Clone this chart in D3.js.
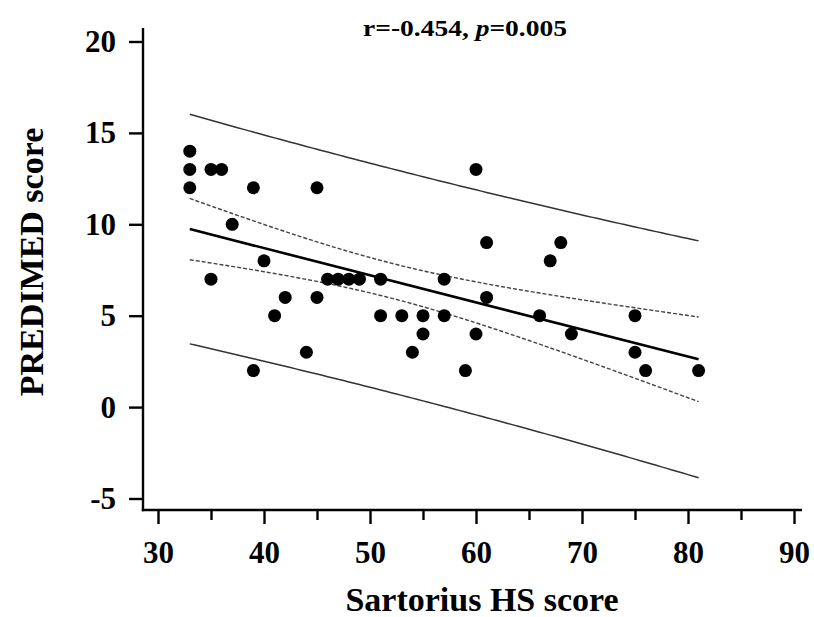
<!DOCTYPE html>
<html>
<head>
  <meta charset="utf-8">
  <title>PREDIMED vs Sartorius</title>
  <script src="https://cdnjs.cloudflare.com/ajax/libs/d3/7.8.5/d3.min.js"></script>
</head>
<style>
  body { margin: 0; background: #fff; }
  svg { display: block; }
  text { font-family: "Liberation Serif", "Times New Roman", serif; font-weight: bold; fill: #000; }
</style>
<body>
<svg id="svg" width="814" height="617"></svg>
<script type="text/javascript">
  // x = Sartorius HS score, y = PREDIMED score
  const sartorius = [33, 33, 33, 35, 36, 35, 37, 39, 39, 40,
                     41, 42, 44, 45, 45, 46, 47, 48, 49, 51,
                     51, 53, 54, 55, 55, 57, 57, 59, 60, 60,
                     61, 61, 66, 67, 68, 69, 75, 75, 76, 81];
  const predimed  = [14, 13, 12, 13, 13, 7, 10, 12, 2, 8,
                     5, 6, 3, 12, 6, 7, 7, 7, 7, 7,
                     5, 5, 3, 5, 4, 7, 5, 2, 13, 4,
                     9, 6, 5, 8, 9, 4, 5, 3, 2, 2];
  const xTicks = [30, 40, 50, 60, 70, 80, 90];
  const xMinorTicks = [35, 45, 55, 65, 75, 85];
  const yTicks = [-5, 0, 5, 10, 15, 20];
  const tCrit = 2.024; // t(0.975, 38)

  const points = sartorius.map((x, i) => ({ x: x, y: predimed[i] }));

  const svg = d3.select('svg');
  const axisX = 143, axisY = 510;

  const xScale = d3.scaleLinear().domain([30, 90]).range([158, 794]);
  const yScale = d3.scaleLinear().domain([-5, 20]).range([498.5, 41.5]);

  // least squares fit + 95% confidence / prediction bands
  const n = points.length;
  const mx = d3.mean(points, d => d.x);
  const my = d3.mean(points, d => d.y);
  const sxx = d3.sum(points, d => (d.x - mx) ** 2);
  const sxy = d3.sum(points, d => (d.x - mx) * (d.y - my));
  const slope = sxy / sxx;
  const icept = my - slope * mx;
  const sse = d3.sum(points, d => (d.y - (icept + slope * d.x)) ** 2);
  const s = Math.sqrt(sse / (n - 2));

  const xs = d3.range(d3.min(sartorius), d3.max(sartorius) + 0.01, 0.5);
  const band = (k, sign) => xs.map(x => {
    const h = tCrit * s * Math.sqrt(k + 1 / n + (x - mx) ** 2 / sxx);
    return { x: x, y: icept + slope * x + sign * h };
  });

  const line = d3.line().x(d => xScale(d.x)).y(d => yScale(d.y));

  [band(1, 1), band(1, -1)].forEach(b => {
    svg.append('path').attr('d', line(b))
      .attr('fill', 'none').attr('stroke', '#333').attr('stroke-width', 1.5);
  });
  [band(0, 1), band(0, -1)].forEach(b => {
    svg.append('path').attr('d', line(b))
      .attr('fill', 'none').attr('stroke', '#444').attr('stroke-width', 1.4)
      .attr('stroke-dasharray', '4,2');
  });
  const xr = d3.extent(sartorius);
  svg.append('path')
    .attr('d', line(xr.map(x => ({ x: x, y: icept + slope * x }))))
    .attr('fill', 'none').attr('stroke', '#000').attr('stroke-width', 2.6);

  svg.selectAll('circle')
    .data(points)
    .enter()
    .append('circle')
    .attr('fill', '#000')
    .attr('r', 6.5)
    .attr('cx', d => xScale(d.x))
    .attr('cy', d => yScale(d.y));

  // axes (plain hyphen for negatives, like the original)
  const fmt = d => String(d);
  const yAxis = d3.axisLeft(yScale).tickValues(yTicks).tickSize(14).tickPadding(13).tickFormat(fmt);
  const xAxis = d3.axisBottom(xScale).tickValues(xTicks).tickSize(14).tickPadding(17).tickFormat(fmt);
  const xMinor = d3.axisBottom(xScale).tickValues(xMinorTicks).tickSize(10).tickFormat('');

  const yG = svg.append('g').attr('transform', `translate(${axisX},0)`).call(yAxis);
  const xG = svg.append('g').attr('transform', `translate(0,${axisY})`).call(xAxis);
  const xmG = svg.append('g').attr('transform', `translate(0,${axisY})`).call(xMinor);
  [yG, xG, xmG].forEach(g => {
    g.select('.domain').remove();
    g.selectAll('line').attr('stroke', '#000').attr('stroke-width', 2.4);
    g.selectAll('text').attr('font-size', 31).attr('font-family', null);
  });

  svg.append('line').attr('x1', axisX).attr('x2', axisX).attr('y1', 28).attr('y2', axisY + 1.2)
    .attr('stroke', '#000').attr('stroke-width', 2.4);
  svg.append('line').attr('x1', axisX - 1.2).attr('x2', 802).attr('y1', axisY).attr('y2', axisY)
    .attr('stroke', '#000').attr('stroke-width', 2.4);

  // labels
  svg.append('text').attr('x', 482).attr('y', 611).attr('text-anchor', 'middle')
    .attr('font-size', 34).text('Sartorius HS score');
  svg.append('text').attr('transform', 'translate(43,262) rotate(-90)').attr('text-anchor', 'middle')
    .attr('font-size', 34).text('PREDIMED score');

  const title = svg.append('text').attr('x', 363).attr('y', 36).attr('font-size', 24)
    .attr('textLength', 204).attr('lengthAdjust', 'spacingAndGlyphs');
  title.append('tspan').text('r=-0.454, ');
  title.append('tspan').attr('font-style', 'italic').text('p');
  title.append('tspan').text('=0.005');
</script>
</body>
</html>
